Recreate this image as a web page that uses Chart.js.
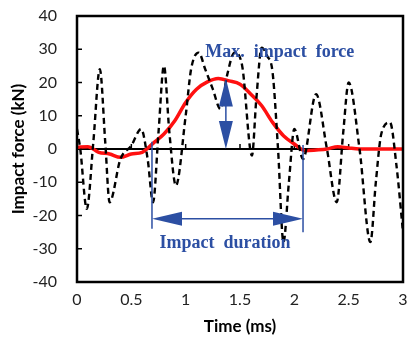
<!DOCTYPE html>
<html>
<head>
<meta charset="utf-8">
<script src="https://cdn.jsdelivr.net/npm/chart.js@4"></script>
<style>
  html, body { margin: 0; padding: 0; background: #fff; }
  #wrap { width: 408px; height: 349px; }
</style>
</head>
<body>
<div id="wrap"><canvas id="impactChart" width="408" height="349"></canvas></div>
<script>
// measured signal (dashed) - time in ms, force in kN
const rawTime  = [0, 0.03, 0.09, 0.15, 0.21, 0.26, 0.30, 0.40, 0.50, 0.59, 0.65, 0.70, 0.75, 0.80, 0.85, 0.91,
                  1.00, 1.05, 1.12, 1.18, 1.25, 1.32, 1.38, 1.45, 1.52, 1.61, 1.65, 1.70, 1.75, 1.80, 1.85, 1.90,
                  1.95, 2.00, 2.08, 2.20, 2.30, 2.39, 2.45, 2.50, 2.60, 2.70, 2.75, 2.80, 2.88, 2.94, 3.00];
const rawForce = [6, 0, -18, 2, 24, 2, -16, -3, 1, 6, -3, -16, 5, 25, 5, -11,
                  10, 24, 29, 24, 18, 12, 22, 29, 25, -2, 15, 30.5, 28, 23, 0, -28,
                  -10, 6, -3, 16.5, 0, -16, 5, 20, 0, -28, -10, 4.5, 8, -5, -25];

// filtered signal (red)
const filtTime  = [0, 0.1, 0.2, 0.3, 0.4, 0.5, 0.6, 0.7, 0.8, 0.9, 1.0, 1.1, 1.2, 1.3, 1.4, 1.5,
                   1.6, 1.7, 1.8, 1.9, 2.0, 2.1, 2.2, 2.3, 2.4, 2.5, 2.6, 2.7, 2.8, 2.9, 3.0];
const filtForce = [0.5, 0.7, -1, -1.5, -2.5, -1.5, -1, 1.7, 4.5, 8.5, 14, 18, 20.2, 21.2, 20.5, 19.5,
                   16.5, 13, 8, 4, 1.5, -0.5, -0.3, 0, 0.7, 0.3, 0, 0, 0, 0, 0];

const xTicks = [0, 0.5, 1, 1.5, 2, 2.5, 3];
const yTicks = [-40, -30, -20, -10, 0, 10, 20, 30, 40];

// annotation anchors (data units)
const durationStart = 0.69, durationEnd = 2.08, durationLevel = -21;
const peakTime = 1.37, peakForce = 21.2;

const BLUE = '#2c4fa3';

function pts(xs, ys) { return xs.map((x, i) => ({ x: x, y: ys[i] })); }

function arrowHead(ctx, tipX, tipY, dir, len, half) {
  // dir: 'left','right','up','down'
  ctx.beginPath();
  ctx.moveTo(tipX, tipY);
  if (dir === 'left')  { ctx.lineTo(tipX + len, tipY - half); ctx.lineTo(tipX + len, tipY + half); }
  if (dir === 'right') { ctx.lineTo(tipX - len, tipY - half); ctx.lineTo(tipX - len, tipY + half); }
  if (dir === 'up')    { ctx.lineTo(tipX - half, tipY + len); ctx.lineTo(tipX + half, tipY + len); }
  if (dir === 'down')  { ctx.lineTo(tipX - half, tipY - len); ctx.lineTo(tipX + half, tipY - len); }
  ctx.closePath();
  ctx.fill();
}

const framePlugin = {
  id: 'frame',
  beforeDatasetsDraw(chart) {
    const { ctx, chartArea: a, scales: { x, y } } = chart;
    ctx.save();
    ctx.strokeStyle = '#000';
    // zero line with ticks
    const y0 = y.getPixelForValue(0);
    ctx.lineWidth = 2;
    ctx.beginPath();
    ctx.moveTo(a.left, y0); ctx.lineTo(a.right, y0);
    ctx.stroke();
    ctx.lineWidth = 1.5;
    xTicks.forEach(t => {
      const px = x.getPixelForValue(t);
      ctx.beginPath(); ctx.moveTo(px, y0); ctx.lineTo(px, y0 - 5); ctx.stroke();
    });
    // inward y ticks
    yTicks.forEach(v => {
      const py = y.getPixelForValue(v);
      ctx.beginPath(); ctx.moveTo(a.left, py); ctx.lineTo(a.left + 5, py); ctx.stroke();
    });
    ctx.restore();
  },
  afterDatasetsDraw(chart) {
    const { ctx, chartArea: a, scales: { x, y } } = chart;
    ctx.save();
    // plot frame
    ctx.strokeStyle = '#000';
    ctx.lineWidth = 2.5;
    ctx.strokeRect(a.left, a.top, a.right - a.left, a.bottom - a.top);

    ctx.strokeStyle = BLUE;
    ctx.fillStyle = BLUE;
    ctx.lineWidth = 1.5;
    // impact duration markers
    const xs = x.getPixelForValue(durationStart), xe = x.getPixelForValue(durationEnd);
    const yl = y.getPixelForValue(durationLevel);
    ctx.beginPath();
    ctx.moveTo(xs, y.getPixelForValue(2.2)); ctx.lineTo(xs, y.getPixelForValue(-24));
    ctx.moveTo(xe, y.getPixelForValue(1.2)); ctx.lineTo(xe, y.getPixelForValue(-25));
    ctx.moveTo(xs + 20, yl); ctx.lineTo(xe - 20, yl);
    ctx.stroke();
    arrowHead(ctx, xs, yl, 'left', 30, 7);
    arrowHead(ctx, xe, yl, 'right', 30, 7);

    // max impact force arrow
    const xp = x.getPixelForValue(peakTime);
    const yt = y.getPixelForValue(peakForce), yb = y.getPixelForValue(0);
    ctx.beginPath(); ctx.moveTo(xp, yt + 20); ctx.lineTo(xp, yb - 20); ctx.stroke();
    arrowHead(ctx, xp, yt, 'up', 28, 7);
    arrowHead(ctx, xp, yb, 'down', 28, 7);

    // labels
    ctx.font = 'bold 18px "Liberation Serif", serif';
    ctx.textBaseline = 'middle';
    ctx.textAlign = 'left';
    ctx.fillText('Max.  impact  force', x.getPixelForValue(1.18), y.getPixelForValue(29.2));
    ctx.fillText('Impact  duration', x.getPixelForValue(0.76), y.getPixelForValue(-28.3));
    ctx.restore();
  }
};

const tickFont = { family: 'Lato, "Open Sans", sans-serif', size: 16 };
const titleFont = { family: 'Lato, "Open Sans", sans-serif', size: 17, weight: 'bold' };

new Chart(document.getElementById('impactChart'), {
  type: 'line',
  data: {
    datasets: [
      {
        label: 'Measured',
        data: pts(rawTime, rawForce),
        borderColor: '#000',
        borderWidth: 2.4,
        borderDash: [6, 4],
        cubicInterpolationMode: 'monotone',
        pointRadius: 0,
        fill: false
      },
      {
        label: 'Filtered',
        data: pts(filtTime, filtForce),
        borderColor: '#ff1010',
        borderWidth: 3.5,
        cubicInterpolationMode: 'monotone',
        pointRadius: 0,
        fill: false
      }
    ]
  },
  options: {
    responsive: false,
    animation: false,
    layout: { padding: { top: 16, right: 5, left: 4, bottom: 8 } },
    plugins: { legend: { display: false }, tooltip: { enabled: false } },
    scales: {
      x: {
        type: 'linear',
        min: 0, max: 3,
        afterBuildTicks: s => { s.ticks = xTicks.map(v => ({ value: v })); },
        afterFit: s => { s.height = 59; s.paddingLeft = 0; s.paddingRight = 0; },
        grid: { display: false, drawTicks: false },
        border: { display: false },
        ticks: { font: tickFont, color: '#222', padding: 8, maxRotation: 0, callback: v => String(v) },
        title: { display: true, text: 'Time (ms)', font: titleFont, color: '#000', padding: { top: 4 } }
      },
      y: {
        min: -40, max: 40,
        afterBuildTicks: s => { s.ticks = yTicks.map(v => ({ value: v })); },
        afterFit: s => { s.width = 73; s.paddingTop = 0; s.paddingBottom = 0; },
        grid: { display: false, drawTicks: false },
        border: { display: false },
        ticks: { font: tickFont, color: '#222', padding: 20, callback: v => String(v) },
        title: { display: true, text: 'Impact force (kN)', font: titleFont, color: '#000', padding: { bottom: 2 } }
      }
    }
  },
  plugins: [framePlugin]
});
</script>
</body>
</html>
